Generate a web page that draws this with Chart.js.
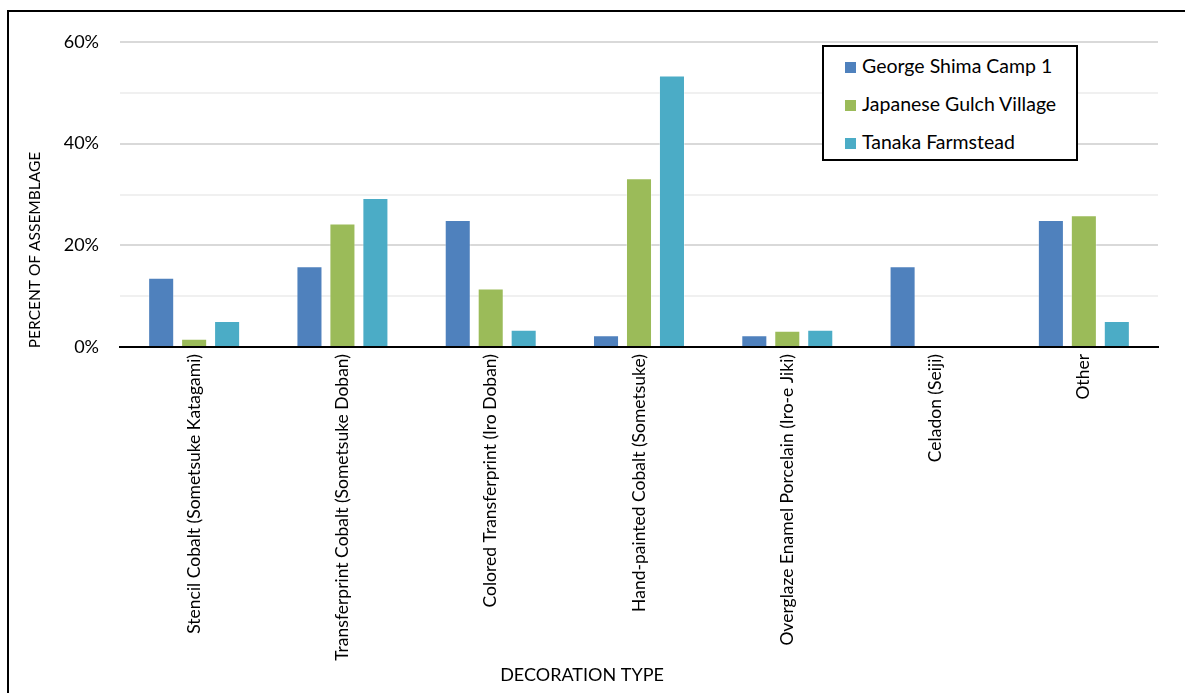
<!DOCTYPE html>
<html>
<head>
<meta charset="utf-8">
<script src="https://cdn.jsdelivr.net/npm/chart.js@4/dist/chart.umd.min.js"></script>
<style>
  html, body { margin: 0; padding: 0; background: #fff; overflow: hidden; }
  #wrap { position: relative; width: 1185px; height: 693px; }
  #frame { position: absolute; left: 7px; top: 10px; width: 1300px; height: 800px;
           border-left: 2px solid #000; border-top: 2px solid #000; box-sizing: border-box; }
  canvas { position: absolute; left: 0; top: 0; }
  #legend { position: absolute; left: 822px; top: 45px; width: 256px; height: 116px;
            border: 2px solid #000; box-sizing: border-box; background: #fff;
            font-family: Lato, "Open Sans", sans-serif; font-size: 19.5px; color: #000; }
  #legend .row { position: absolute; left: 21px; height: 22px; line-height: 22px; white-space: nowrap; }
  #legend .sw { display: inline-block; width: 11px; height: 11px; margin-right: 6px; vertical-align: 0px; }
</style>
</head>
<body>
<div id="wrap">
  <div id="frame"></div>
  <canvas id="c" width="1185" height="693"></canvas>
  <div id="legend"></div>
</div>
<script>
// Decoration types of Japanese porcelain found at each site
const categories = [
  "Stencil Cobalt (Sometsuke Katagami)",
  "Transferprint Cobalt (Sometsuke Doban)",
  "Colored Transferprint (Iro Doban)",
  "Hand-painted Cobalt (Sometsuke)",
  "Overglaze Enamel Porcelain (Iro-e Jiki)",
  "Celadon (Seiji)",
  "Other"
];
const seriesNames = ["George Shima Camp 1", "Japanese Gulch Village", "Tanaka Farmstead"];
// Percent of assemblage
const georgeShima   = [13.6, 15.9, 25.0, 2.3, 2.3, 15.9, 25.0];
const japaneseGulch = [1.6, 24.3, 11.5, 33.2, 3.2, 0, 25.9];
const tanaka        = [5.1, 29.3, 3.4, 53.4, 3.4, 0, 5.1];
const yTicks = [0, 20, 40, 60];

const colors = ["#4F81BD", "#9BBB59", "#4BACC6"];
const seriesValues = [georgeShima, japaneseGulch, tanaka];
const FONT = "Lato, 'Open Sans', sans-serif";

const datasets = seriesNames.map((name, i) => ({
  label: name,
  data: seriesValues[i],
  backgroundColor: colors[i],
  borderColor: "rgba(255,255,255,0.35)",
  borderWidth: 1,
  categoryPercentage: 0.667,
  barPercentage: 0.79
}));

// Axis titles placed like the original report figure
const axisTitles = {
  id: "axisTitles",
  afterDraw(chart) {
    const ctx = chart.ctx;
    ctx.save();
    ctx.fillStyle = "#000";
    ctx.textAlign = "center";
    ctx.textBaseline = "middle";
    ctx.save();
    ctx.font = "15.5px " + FONT;
    ctx.translate(35, 250);
    ctx.rotate(-Math.PI / 2);
    ctx.fillText("PERCENT OF ASSEMBLAGE", 0, 0);
    ctx.restore();
    ctx.font = "18px " + FONT;
    ctx.fillText("DECORATION TYPE", 582, 675);
    ctx.restore();
  }
};

new Chart(document.getElementById("c"), {
  type: "bar",
  data: { labels: categories, datasets },
  options: {
    responsive: false,
    animation: false,
    layout: { padding: { left: 0, top: 42, right: 27, bottom: 0 } },
    plugins: { legend: { display: false }, tooltip: { enabled: false } },
    scales: {
      x: {
        afterFit(s) { s.height = 346; },
        grid: { display: false, drawTicks: false },
        border: { color: "#000", width: 2 },
        ticks: {
          color: "#000", font: { family: FONT, size: 17.5 },
          minRotation: 90, maxRotation: 90, autoSkip: false, padding: 7
        }
      },
      y: {
        min: 0, max: 60,
        afterFit(s) { s.width = 120; },
        border: { display: false },
        grid: {
          drawTicks: false,
          lineWidth: 2,
          color: c => c.tick.value === 0 ? "rgba(0,0,0,0)" :
                      (yTicks.includes(c.tick.value) ? "#d9d9d9" : "#f0f0f0")
        },
        ticks: {
          stepSize: 10, padding: 21, color: "#000",
          font: { family: FONT, size: 18 },
          callback: v => yTicks.includes(v) ? v + "%" : ""
        }
      }
    }
  },
  plugins: [axisTitles]
});

// Legend box
const legend = document.getElementById("legend");
seriesNames.forEach((name, i) => {
  const row = document.createElement("div");
  row.className = "row";
  row.style.top = (8 + i * 38) + "px";
  row.innerHTML = '<span class="sw" style="background:' + colors[i] + '"></span>' + name;
  legend.appendChild(row);
});
</script>
</body>
</html>
